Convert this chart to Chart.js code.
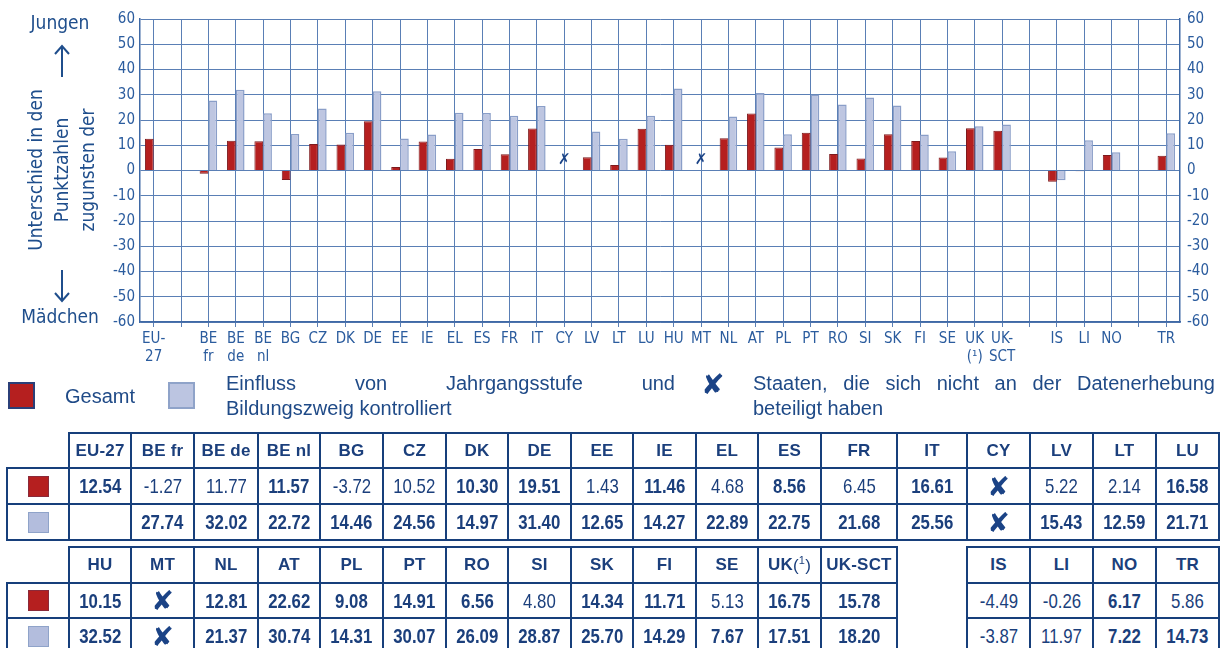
<!DOCTYPE html>
<html><head><meta charset="utf-8">
<script src="https://cdn.jsdelivr.net/npm/chart.js@4.4.0/dist/chart.umd.min.js"></script>
<style>
body{margin:0;background:#fff;width:1225px;height:648px;overflow:hidden;position:relative;font-family:"Liberation Sans",Arial,sans-serif;color:#1b3f7c}
.abs{position:absolute;white-space:nowrap}
.narrow{font-family:"Liberation Sans Narrow","DejaVu Sans Condensed","Arial Narrow",sans-serif}
.rot{transform:translate(-50%,-50%) rotate(-90deg);font-size:19px;color:#1f4e8c;line-height:20px}
.cell{position:absolute;box-sizing:border-box;border:2.5px solid #173f7b;display:flex;align-items:center;justify-content:center;white-space:nowrap}
.hd{font-weight:bold;font-size:17px;letter-spacing:0.2px}
.num{font-size:21px;font-family:"Liberation Sans",Arial,sans-serif;display:inline-block;transform:scaleX(0.8)}
.xg{font-family:"DejaVu Sans",sans-serif;color:#1b4386;font-size:27px;line-height:27px}
.sw{position:absolute;box-sizing:border-box}
</style></head><body>
<canvas id="c" width="1225" height="370" style="position:absolute;left:0;top:0"></canvas>

<div class="abs narrow" style="left:60px;top:22px;transform:translate(-50%,-50%);font-size:19px;color:#1f4e8c">Jungen</div>
<svg class="abs" style="left:0;top:0" width="130" height="330">
  <g stroke="#1f4e8c" stroke-width="2" fill="none">
    <line x1="62" y1="46" x2="62" y2="77"/>
    <polyline points="55,54 62,46 69,54"/>
    <line x1="62" y1="270" x2="62" y2="301"/>
    <polyline points="55,293 62,301 69,293"/>
  </g>
</svg>
<div class="abs narrow rot" style="left:35px;top:170px">Unterschied in den</div>
<div class="abs narrow rot" style="left:61px;top:170px">Punktzahlen</div>
<div class="abs narrow rot" style="left:87px;top:170px">zugunsten der</div>
<div class="abs narrow" style="left:60px;top:316px;transform:translate(-50%,-50%);font-size:19px;color:#1f4e8c">Mädchen</div>

<!-- legend -->
<div class="sw" style="left:8px;top:382px;width:27px;height:27px;background:#b51f1f;border:2px solid #2b3f78"></div>
<div class="abs" style="left:65px;top:384px;font-size:20px;line-height:25px;color:#1f4a87">Gesamt</div>
<div class="sw" style="left:168px;top:382px;width:27px;height:27px;background:#bcc5e1;border:2px solid #8fa3c9"></div>
<div class="abs" style="left:226px;top:371px;width:449px;font-size:20px;line-height:25px;color:#1f4a87">
  <div style="display:flex;justify-content:space-between"><span>Einfluss</span><span>von</span><span>Jahrgangsstufe</span><span>und</span></div>
  <div>Bildungszweig kontrolliert</div>
</div>
<div class="abs xg" style="left:701px;top:370px;font-size:28px;line-height:30px">✘</div>
<div class="abs" style="left:753px;top:371px;width:462px;font-size:20px;line-height:25px;color:#1f4a87">
  <div style="display:flex;justify-content:space-between"><span>Staaten,</span><span>die</span><span>sich</span><span>nicht</span><span>an</span><span>der</span><span>Datenerhebung</span></div>
  <div>beteiligt haben</div>
</div>

<div id="tables"></div>

<script>
// ---- data ----
const categories = ["EU-27","","BE fr","BE de","BE nl","BG","CZ","DK","DE","EE","IE","EL","ES","FR","IT","CY","LV","LT","LU","HU","MT","NL","AT","PL","PT","RO","SI","SK","FI","SE","UK (1)","UK-SCT","","IS","LI","NO","","TR"];
const axisLabels = [["EU-","27"],"",["BE","fr"],["BE","de"],["BE","nl"],"BG","CZ","DK","DE","EE","IE","EL","ES","FR","IT","CY","LV","LT","LU","HU","MT","NL","AT","PL","PT","RO","SI","SK","FI","SE",["UK","(¹)"],["UK-","SCT"],"","IS","LI","NO","","TR"];
const gesamt = [12.54,null,-1.27,11.77,11.57,-3.72,10.52,10.30,19.51,1.43,11.46,4.68,8.56,6.45,16.61,null,5.22,2.14,16.58,10.15,null,12.81,22.62,9.08,14.91,6.56,4.80,14.34,11.71,5.13,16.75,15.78,null,-4.49,-0.26,6.17,null,5.86];
const kontrolliert = [null,null,27.74,32.02,22.72,14.46,24.56,14.97,31.40,12.65,14.27,22.89,22.75,21.68,25.56,null,15.43,12.59,21.71,32.52,null,21.37,30.74,14.31,30.07,26.09,28.87,25.70,14.29,7.67,17.51,18.20,null,-3.87,11.97,7.22,null,14.73];
// significant (bold) flags
const gesamtBold = [1,0,0,0,1,0,0,1,1,0,1,0,1,0,1,0,0,0,1,1,0,1,1,1,1,1,0,1,1,0,1,1,0,0,0,1,0,0];
const kontrBold  = [1,0,1,1,1,1,1,1,1,1,1,1,1,1,1,0,1,1,1,1,0,1,1,1,1,1,1,1,1,1,1,1,0,0,0,1,0,1];
const notParticipating = ["CY","MT"];
const notParticipatingMarkValue = 4;
const yTicks = [-60,-50,-40,-30,-20,-10,0,10,20,30,40,50,60];
const table1Cols = ["EU-27","BE fr","BE de","BE nl","BG","CZ","DK","DE","EE","IE","EL","ES","FR","IT","CY","LV","LT","LU"];
const table2Cols = ["HU","MT","NL","AT","PL","PT","RO","SI","SK","FI","SE","UK (1)","UK-SCT",null,"IS","LI","NO","TR"];

// ---- chart ----
const gridCol = '#5a7fb5';
const tickFont = {family:'"Liberation Sans Narrow","DejaVu Sans Condensed",sans-serif', size:15};
const xMarks = {
  id:'xMarks',
  afterDatasetsDraw(chart){
    const {ctx, scales:{x,y}} = chart;
    ctx.save();
    ctx.fillStyle = '#1b4386';
    ctx.font = 'bold 15px "DejaVu Sans"';
    ctx.textAlign='center'; ctx.textBaseline='middle';
    notParticipating.forEach(c=>{
      const i = categories.indexOf(c);
      ctx.fillText('✗', x.getPixelForValue(i), y.getPixelForValue(notParticipatingMarkValue));
    });
    ctx.restore();
  }
};
new Chart(document.getElementById('c'), {
  type:'bar',
  data:{labels:axisLabels, datasets:[
    {label:'Gesamt', data:gesamt, backgroundColor:'#b51f1f', borderColor:'#7d1a1d', borderWidth:1, categoryPercentage:0.64, barPercentage:1},
    {label:'Einfluss von Jahrgangsstufe und Bildungszweig kontrolliert', data:kontrolliert, backgroundColor:'#bec6e1', borderColor:'#8a9ec8', borderWidth:1.5, categoryPercentage:0.64, barPercentage:1}
  ]},
  options:{
    responsive:false, animation:false,
    layout:{padding:{top:19,left:0,right:0,bottom:0}},
    plugins:{legend:{display:false}, tooltip:{enabled:false}},
    scales:{
      x:{
        grid:{offset:false, color:gridCol, lineWidth:1, drawTicks:true, tickLength:5, tickColor:gridCol},
        border:{color:'#3f69a5', width:1.5},
        ticks:{color:'#2b5c9e', font:tickFont, maxRotation:0, minRotation:0, autoSkip:false, padding:3},
        afterFit(s){s.height=48;}
      },
      y:{
        position:'left', min:-60, max:60,
        afterBuildTicks(s){s.ticks = yTicks.map(v=>({value:v}));},
        grid:{color:gridCol, lineWidth:1, drawTicks:false},
        border:{color:'#3f69a5', width:1.5},
        ticks:{color:'#2b5c9e', font:tickFont, padding:5},
        afterFit(s){s.width=140;}
      },
      y2:{
        position:'right', min:-60, max:60,
        afterBuildTicks(s){s.ticks = yTicks.map(v=>({value:v}));},
        grid:{display:false, drawTicks:false},
        border:{color:'#3f69a5', width:1.5},
        ticks:{color:'#2b5c9e', font:tickFont, padding:7},
        afterFit(s){s.width=45;}
      }
    }
  },
  plugins:[xMarks]
});

// ---- tables ----
const colEdges=[7,69,131,194,258,320,383,446,508,571,633,696,758,821,897,967,1030,1093,1156,1219];
const host=document.getElementById('tables');
function cell(l,t,w,h,html,cls){
  const d=document.createElement('div');
  d.className='cell '+(cls||'');
  d.style.left=(l-1.25)+'px'; d.style.top=(t-1.25)+'px';
  d.style.width=(w+2.5)+'px'; d.style.height=(h+2.5)+'px';
  d.innerHTML=html; host.appendChild(d); return d;
}
function fmt(v){return v===null?'':v.toFixed(2);}
function numHtml(v,b){
  return '<span class="num" style="font-weight:'+(b?'bold':'normal')+'">'+fmt(v)+'</span>';
}
const swatchR='<div style="width:21px;height:21px;background:#b51f1f;border:1px solid #8a2a3a;box-sizing:border-box"></div>';
const swatchB='<div style="width:21px;height:21px;background:#b3bddd;border:1px solid #8fa3c9;box-sizing:border-box"></div>';
function headerHtml(name){
  if(name==='UK (1)') return 'UK <span style="font-weight:normal">(<sup style="font-size:11px">1</sup>)</span>';
  return name;
}
function buildTable(cols, rows){
  cell(colEdges[0],rows[1],colEdges[1]-colEdges[0],rows[2]-rows[1],swatchR);
  cell(colEdges[0],rows[2],colEdges[1]-colEdges[0],rows[3]-rows[2],swatchB);
  cols.forEach((name,k)=>{
    if(name===null) return;
    const l=colEdges[k+1], w=colEdges[k+2]-l;
    cell(l,rows[0],w,rows[1]-rows[0],headerHtml(name),'hd');
    const i=categories.indexOf(name);
    const miss=notParticipating.includes(name);
    const xg='<span class="xg">✘</span>';
    cell(l,rows[1],w,rows[2]-rows[1], miss?xg:numHtml(gesamt[i],gesamtBold[i]));
    cell(l,rows[2],w,rows[3]-rows[2], miss?xg:numHtml(kontrolliert[i],kontrBold[i]));
  });
}
buildTable(table1Cols,[433,468,504,540]);
buildTable(table2Cols,[547,583,618,654]);
</script>
</body></html>
